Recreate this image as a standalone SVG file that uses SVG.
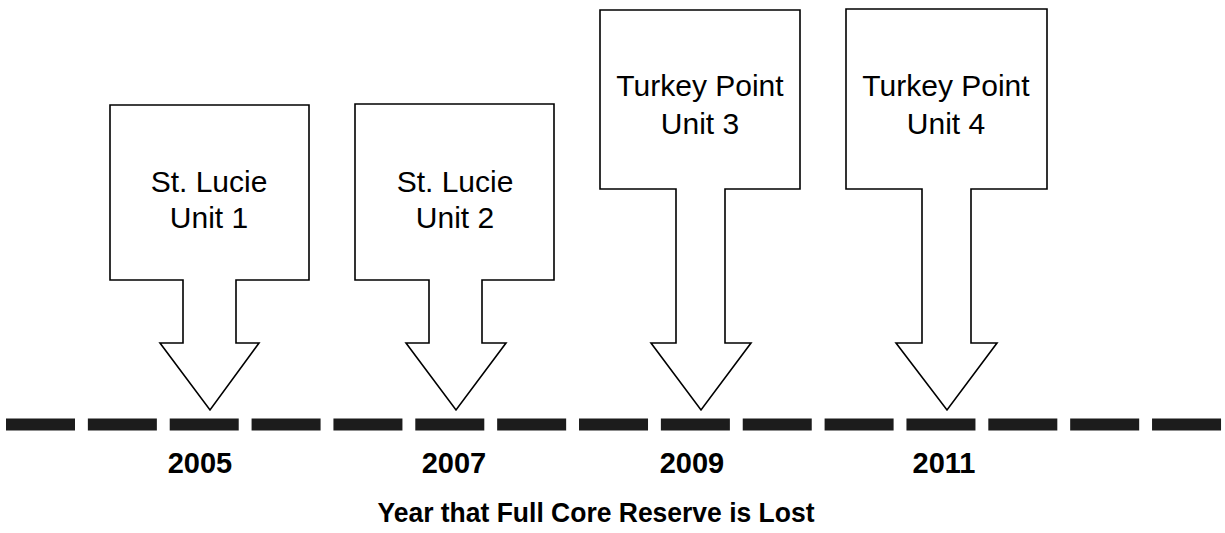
<svg xmlns="http://www.w3.org/2000/svg" width="1225" height="533" viewBox="0 0 1225 533">
<style>
.arrow{fill:#fff;stroke:#000;stroke-width:1.6;stroke-linejoin:miter}
.lbl{font-family:"Liberation Sans",Arial,Helvetica,sans-serif;font-size:30px;fill:#000;text-anchor:middle}
.yr{font-family:"Liberation Sans",Arial,Helvetica,sans-serif;font-size:29px;font-weight:bold;fill:#000;text-anchor:middle}
.ttl{font-family:"Liberation Sans",Arial,Helvetica,sans-serif;font-size:27px;font-weight:bold;fill:#000;text-anchor:middle}
.axis{stroke:#1c1c1c;stroke-width:12;stroke-dasharray:69 12.86;fill:none}
</style>
<rect width="1225" height="533" fill="#fff"/>
<g id="axis">
<line class="axis" x1="6" y1="424.5" x2="1222" y2="424.5"/>
</g>
<g id="connectors"></g>
<g id="node-stlucie1">
<path class="arrow" d="M110,105 H309 V280 H236 V343 H259 L210,410 L160,343 H183 V280 H110 Z"/>
<text class="lbl" x="209" y="192">St. Lucie</text>
<text class="lbl" x="209" y="228">Unit 1</text>
</g>
<g id="node-stlucie2">
<path class="arrow" d="M355,104 H554 V280 H482 V343 H506 L456,410 L406,343 H429 V280 H355 Z"/>
<text class="lbl" x="455" y="192">St. Lucie</text>
<text class="lbl" x="455" y="228">Unit 2</text>
</g>
<g id="node-turkey3">
<path class="arrow" d="M600,10 H800 V189 H725 V343 H751 L701,410 L651,343 H676 V189 H600 Z"/>
<text class="lbl" x="700" y="96">Turkey Point</text>
<text class="lbl" x="700" y="134">Unit 3</text>
</g>
<g id="node-turkey4">
<path class="arrow" d="M846,9 H1047 V189 H971 V343 H997 L947,410 L896,343 H922 V189 H846 Z"/>
<text class="lbl" x="946" y="96">Turkey Point</text>
<text class="lbl" x="946" y="134">Unit 4</text>
</g>
<g id="years">
<text class="yr" x="200" y="473">2005</text>
<text class="yr" x="454" y="473">2007</text>
<text class="yr" x="692" y="473">2009</text>
<text class="yr" x="944" y="473">2011</text>
</g>
<g id="title">
<text class="ttl" x="596" y="522" textLength="437" lengthAdjust="spacingAndGlyphs">Year that Full Core Reserve is Lost</text>
</g>
</svg>
